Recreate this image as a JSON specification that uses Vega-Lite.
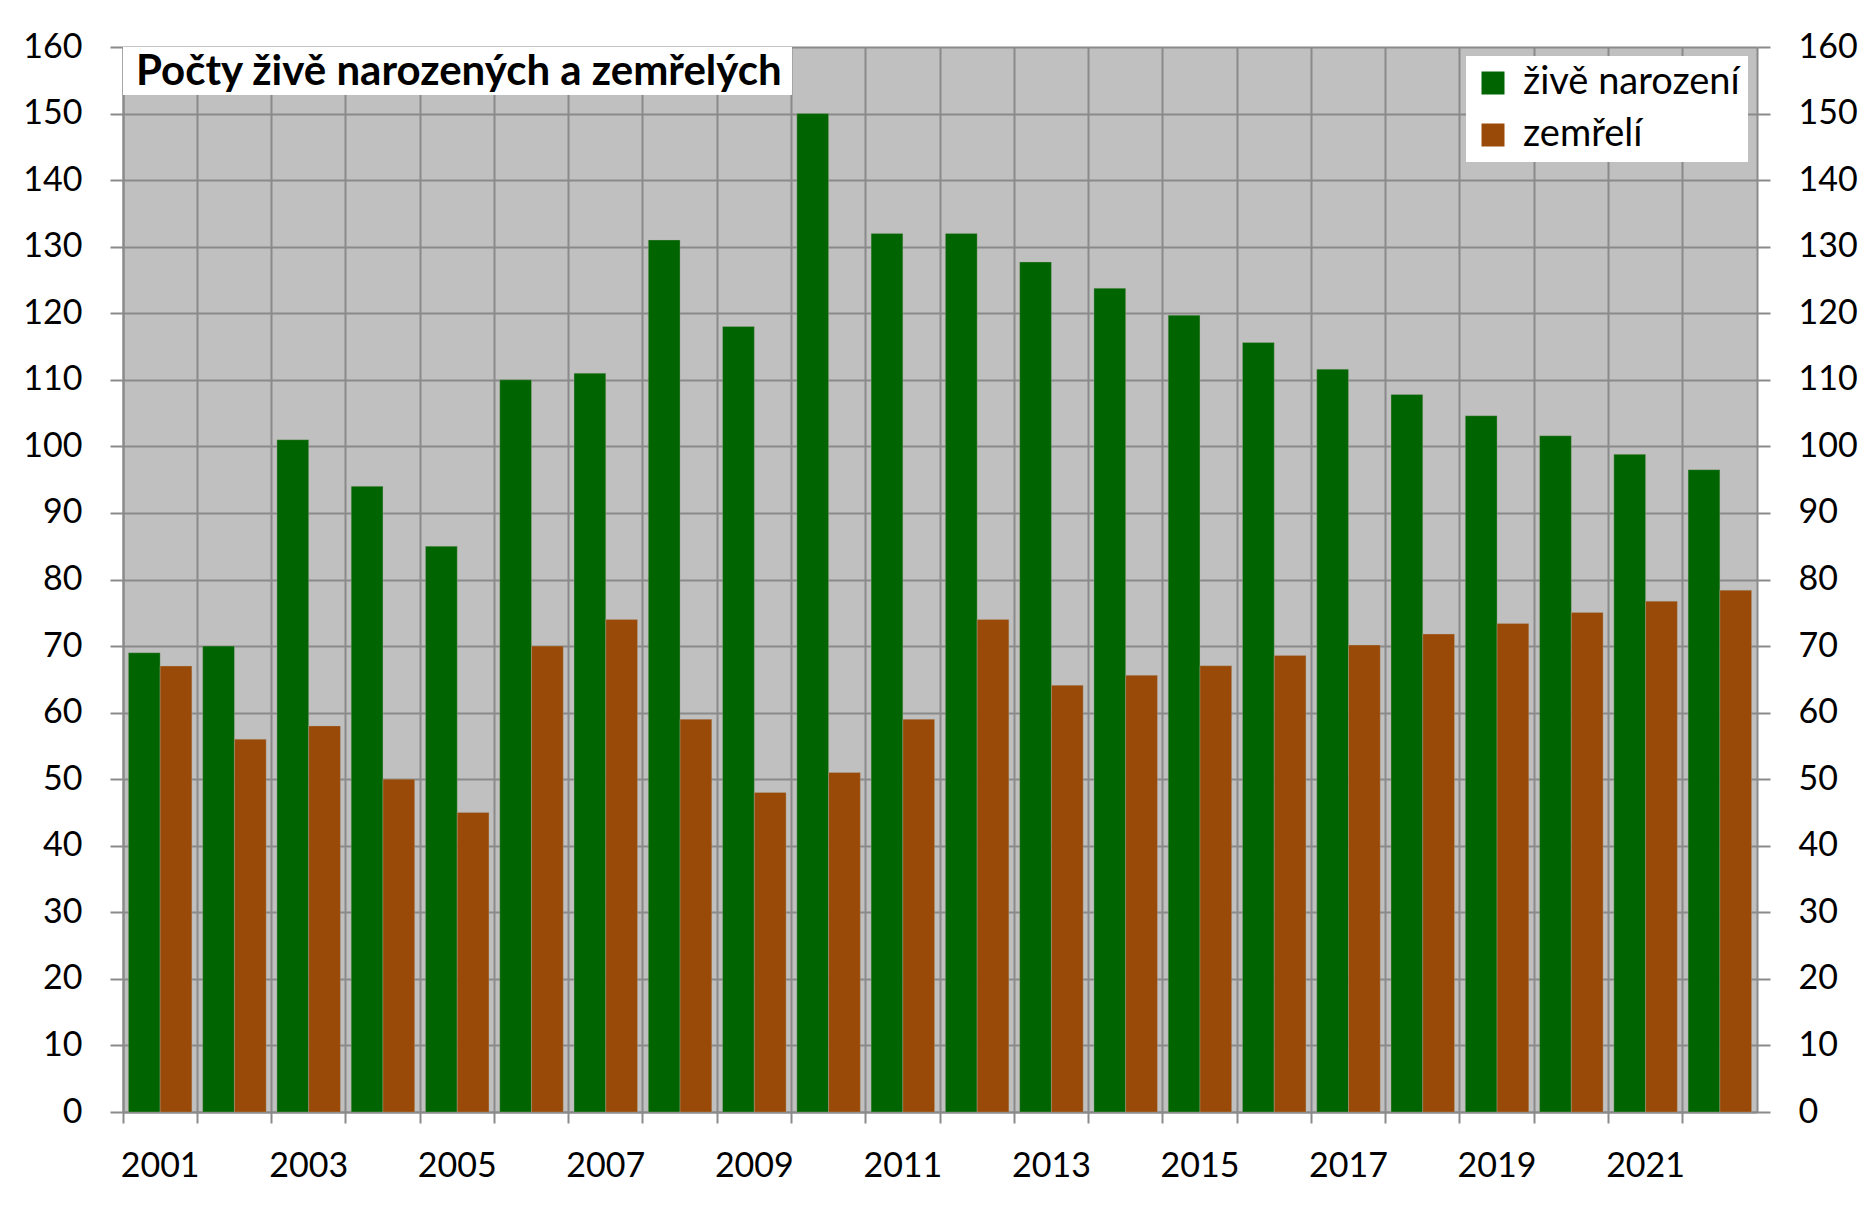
{
  "$schema": "https://vega.github.io/schema/vega-lite/v6.json",
  "width": 1634,
  "height": 1065,
  "autosize": {"type": "none"},
  "padding": {"left": 123, "top": 47, "right": 101, "bottom": 93},
  "background": "white",
  "config": {
    "font": "Lato",
    "view": {"fill": "#C0C0C0", "stroke": null},
    "axis": {
      "labelFont": "Lato",
      "labelFontSize": 34,
      "labelColor": "#000000",
      "domainColor": "#8a8a8a",
      "domainWidth": 2,
      "tickColor": "#8a8a8a",
      "tickWidth": 2,
      "gridColor": "#8a8a8a",
      "gridWidth": 2,
      "gridOpacity": 1,
      "title": null
    },
    "legend": {
      "labelFont": "Lato",
      "labelFontSize": 38,
      "labelColor": "#000000",
      "labelLimit": 0
    }
  },
  "title": {
    "text": "Počty živě narozených a zemřelých",
    "font": "Lato",
    "fontSize": 42,
    "fontWeight": "bold",
    "color": "#000000",
    "anchor": "start",
    "frame": "group",
    "orient": "top",
    "baseline": "top",
    "offset": -64,
    "dx": 13
  },
  "data": {
    "values": [
      {"year": "2001", "series": "živě narození", "value": 69},
      {"year": "2002", "series": "živě narození", "value": 70},
      {"year": "2003", "series": "živě narození", "value": 101},
      {"year": "2004", "series": "živě narození", "value": 94},
      {"year": "2005", "series": "živě narození", "value": 85},
      {"year": "2006", "series": "živě narození", "value": 110},
      {"year": "2007", "series": "živě narození", "value": 111},
      {"year": "2008", "series": "živě narození", "value": 131},
      {"year": "2009", "series": "živě narození", "value": 118},
      {"year": "2010", "series": "živě narození", "value": 150},
      {"year": "2011", "series": "živě narození", "value": 132},
      {"year": "2012", "series": "živě narození", "value": 132},
      {"year": "2013", "series": "živě narození", "value": 127.7},
      {"year": "2014", "series": "živě narození", "value": 123.75},
      {"year": "2015", "series": "živě narození", "value": 119.7},
      {"year": "2016", "series": "živě narození", "value": 115.6},
      {"year": "2017", "series": "živě narození", "value": 111.6},
      {"year": "2018", "series": "živě narození", "value": 107.8},
      {"year": "2019", "series": "živě narození", "value": 104.6},
      {"year": "2020", "series": "živě narození", "value": 101.6},
      {"year": "2021", "series": "živě narození", "value": 98.8},
      {"year": "2022", "series": "živě narození", "value": 96.5},
      {"year": "2001", "series": "zemřelí", "value": 67},
      {"year": "2002", "series": "zemřelí", "value": 56},
      {"year": "2003", "series": "zemřelí", "value": 58},
      {"year": "2004", "series": "zemřelí", "value": 50},
      {"year": "2005", "series": "zemřelí", "value": 45},
      {"year": "2006", "series": "zemřelí", "value": 70},
      {"year": "2007", "series": "zemřelí", "value": 74},
      {"year": "2008", "series": "zemřelí", "value": 59},
      {"year": "2009", "series": "zemřelí", "value": 48},
      {"year": "2010", "series": "zemřelí", "value": 51},
      {"year": "2011", "series": "zemřelí", "value": 59},
      {"year": "2012", "series": "zemřelí", "value": 74},
      {"year": "2013", "series": "zemřelí", "value": 64.1},
      {"year": "2014", "series": "zemřelí", "value": 65.6},
      {"year": "2015", "series": "zemřelí", "value": 67.05},
      {"year": "2016", "series": "zemřelí", "value": 68.6},
      {"year": "2017", "series": "zemřelí", "value": 70.15},
      {"year": "2018", "series": "zemřelí", "value": 71.8},
      {"year": "2019", "series": "zemřelí", "value": 73.4},
      {"year": "2020", "series": "zemřelí", "value": 75.05},
      {"year": "2021", "series": "zemřelí", "value": 76.75},
      {"year": "2022", "series": "zemřelí", "value": 78.4}
    ]
  },
  "layer": [
    {
      "mark": {"type": "bar", "stroke": "#b0b0a0", "strokeWidth": 0.6, "strokeOpacity": 0.6},
      "encoding": {
        "x": {
          "field": "year",
          "type": "ordinal",
          "scale": {"paddingInner": 0, "paddingOuter": 0},
          "axis": {
            "bandPosition": 0,
            "grid": true,
            "tickSize": 11,
            "labelAngle": 0,
            "labelPadding": 26,
            "labelAlign": "center",
            "labelExpr": "(+datum.value) % 2 == 1 ? datum.label : ''"
          }
        },
        "xOffset": {
          "field": "series",
          "type": "nominal",
          "sort": ["živě narození", "zemřelí"],
          "scale": {"paddingInner": 0, "paddingOuter": 0.17}
        },
        "y": {
          "field": "value",
          "type": "quantitative",
          "scale": {"domain": [0, 160], "nice": false, "zero": true},
          "axis": {
            "orient": "left",
            "values": [0, 10, 20, 30, 40, 50, 60, 70, 80, 90, 100, 110, 120, 130, 140, 150, 160],
            "grid": true,
            "tickSize": 13,
            "labelPadding": 28
          }
        },
        "color": {
          "field": "series",
          "type": "nominal",
          "sort": ["živě narození", "zemřelí"],
          "scale": {"domain": ["živě narození", "zemřelí"], "range": ["#006400", "#994A08"]},
          "legend": {
            "title": null,
            "orient": "top-right",
            "offset": 9,
            "fillColor": "#FFFFFF",
            "padding": 8,
            "symbolType": "square",
            "symbolSize": 529,
            "symbolStrokeWidth": 0,
            "rowPadding": 14,
            "labelOffset": 11,
            "labelLimit": 0
          }
        }
      }
    },
    {
      "mark": {"type": "rect", "color": "#FFFFFF", "opacity": 1},
      "encoding": {
        "x": {"datum": "2001", "bandPosition": 0},
        "x2": {"datum": "2010", "bandPosition": 0},
        "y": {
          "datum": 160,
          "type": "quantitative",
          "axis": {
            "orient": "right",
            "values": [0, 10, 20, 30, 40, 50, 60, 70, 80, 90, 100, 110, 120, 130, 140, 150, 160],
            "grid": false,
            "tickSize": 13,
            "labelPadding": 28,
            "labelAlign": "left"
          }
        },
        "y2": {"datum": 152.9}
      }
    }
  ],
  "resolve": {"axis": {"y": "independent"}}
}
